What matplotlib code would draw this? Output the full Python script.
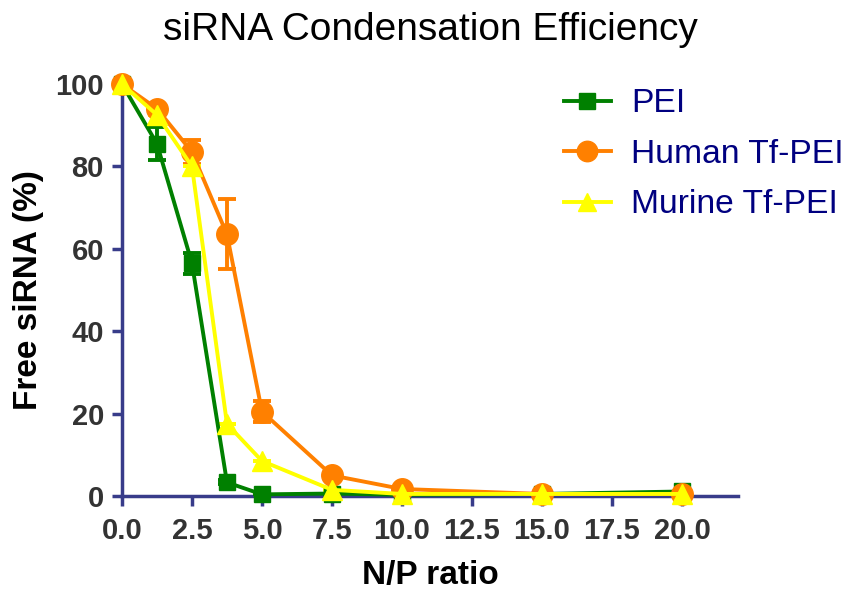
import numpy as np
import matplotlib
matplotlib.use('Agg')
import matplotlib.pyplot as plt
from matplotlib.lines import Line2D

plt.rcParams['font.family'] = ['Liberation Sans', 'DejaVu Sans']

# N/P ratios and free siRNA (%)
np_ratio = [0, 1.25, 2.5, 3.75, 5, 7.5, 10, 15, 20]
pei = [100, 85.5, 56.5, 3.3, 0.4, 0.6, 0.3, 0.5, 1.1]
pei_err = [0, 4, 2.5, 0.5, 0, 0, 0, 0, 0]
human = [100, 94, 83.5, 63.5, 20.5, 5, 1.7, 0.5, 0.5]
human_err = [0, 0, 3, 8.5, 2.5, 0, 0, 0, 0]
murine = [100, 92.5, 80, 17.5, 8.5, 1.5, 0.5, 0.5, 0.5]
murine_err = [0, 0, 0, 0, 0, 0, 0, 0, 0]

xticks = [0, 2.5, 5, 7.5, 10, 12.5, 15, 17.5, 20]
yticks = [0, 20, 40, 60, 80, 100]

axis_col = '#383C8A'

fig = plt.figure(figsize=(8.44, 5.90), dpi=100)
ax = fig.add_axes([0.1445, 0.1593, 0.7299, 0.6983])

series = [
    (pei, pei_err, '#008000', 's', 12, 'PEI'),
    (human, human_err, '#FF8000', 'o', 15.5, 'Human Tf-PEI'),
    (murine, murine_err, '#FFFF00', '^', 14, 'Murine Tf-PEI'),
]
handles = []
for vals, err, col, mk, ms, lab in series:
    eb = ax.errorbar(np_ratio, vals, yerr=err, color=col, marker=mk, markersize=ms,
                     lw=2.8, elinewidth=2.8, capsize=6.8, capthick=2.8,
                     clip_on=False, zorder=3)
    eb.lines[0].set_clip_on(False)
    handles.append(Line2D([0], [0], color=col, marker=mk, markersize=ms * 0.95,
                          lw=2.8, label=lab))

ax.set_xlim(0, 22)
ax.set_ylim(0, 100)
ax.set_xticks(xticks)
ax.set_xticklabels(['%.1f' % t for t in xticks])
ax.set_yticks(yticks)

for s in ['top', 'right']:
    ax.spines[s].set_visible(False)
for s in ['left', 'bottom']:
    ax.spines[s].set_color(axis_col)
    ax.spines[s].set_linewidth(2.5)
    ax.spines[s].set_zorder(1)

ax.tick_params(axis='both', direction='out', length=7, width=2.5, color=axis_col,
               labelsize=21, labelcolor='#333333', pad=6)
ax.tick_params(axis='x', pad=8)
for lbl in ax.get_xticklabels() + ax.get_yticklabels():
    lbl.set_fontweight('bold')

ax.set_xlabel('N/P ratio', fontsize=24, fontweight='bold', labelpad=11)
ax.set_ylabel('Free siRNA (%)', fontsize=24, fontweight='bold', labelpad=8)
fig.suptitle('siRNA Condensation Efficiency', fontsize=28, x=0.51, y=0.98)

lg = fig.legend(handles=handles, loc='upper left', bbox_to_anchor=(0.668, 0.85),
                frameon=False, fontsize=24.2, handlelength=1.4, labelspacing=0.58,
                handletextpad=0.6, borderpad=0, borderaxespad=0)
for t in lg.get_texts():
    t.set_color('#000080')

fig.savefig('out.png', dpi=100)
